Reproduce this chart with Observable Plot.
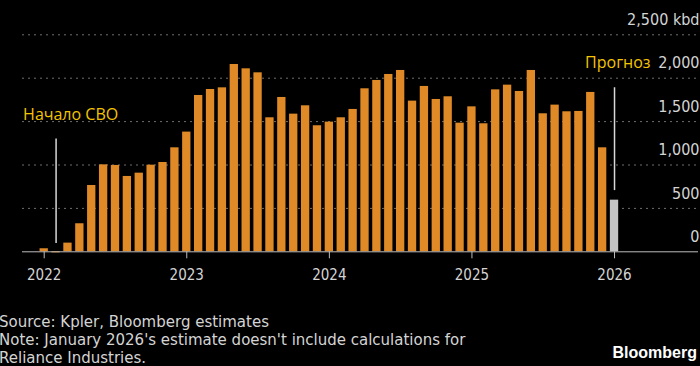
<!DOCTYPE html>
<html>
<head>
<meta charset="utf-8">
<script src="https://cdn.jsdelivr.net/npm/d3@7"></script>
<script src="https://cdn.jsdelivr.net/npm/@observablehq/plot@0.6"></script>
<style>
  html, body { margin: 0; padding: 0; background: #000; }
  body { width: 700px; height: 366px; overflow: hidden; position: relative; }
  #caption { font-family: "DejaVu Sans", sans-serif;
    font-size: 15px; line-height: 18px; color: #d4d4d4; margin-left: -1px; margin-top: -1px; white-space: nowrap; }
  #logo { position: absolute; right: 3px; top: 343px; font-family: "Liberation Sans", Arial, sans-serif;
    font-weight: bold; font-size: 16px; line-height: 20px; color: #fff; }
</style>
</head>
<body>
<div id="chart"></div>
<div id="caption">
  <div>Source: Kpler, Bloomberg estimates</div>
  <div>Note: January 2026's estimate doesn't include calculations for</div>
  <div>Reliance Industries.</div>
</div>
<div id="logo">Bloomberg</div>
<script>
// Monthly categories (Jan 2022 – Jan 2026)
const months = [
  "2022-01","2022-02","2022-03","2022-04","2022-05","2022-06","2022-07","2022-08","2022-09","2022-10","2022-11","2022-12",
  "2023-01","2023-02","2023-03","2023-04","2023-05","2023-06","2023-07","2023-08","2023-09","2023-10","2023-11","2023-12",
  "2024-01","2024-02","2024-03","2024-04","2024-05","2024-06","2024-07","2024-08","2024-09","2024-10","2024-11","2024-12",
  "2025-01","2025-02","2025-03","2025-04","2025-05","2025-06","2025-07","2025-08","2025-09","2025-10","2025-11","2025-12",
  "2026-01"
];
// Imports, thousand barrels per day (kbd)
const values = [
  35, -12, 100, 323, 764, 1002, 995, 868, 906, 998, 1029, 1198,
  1379, 1801, 1870, 1889, 2158, 2108, 2062, 1544, 1778, 1586, 1682, 1452,
  1494, 1544, 1640, 1878, 1974, 2043, 2089, 1736, 1905, 1755, 1786, 1482,
  1670, 1475, 1866, 1920, 1847, 2089, 1590, 1690, 1613, 1617, 1836, 1198,
  595
];
const estimateMonths = ["2026-01"];

const yTicks = [0, 500, 1000, 1500, 2000, 2500];
const yTickLabels = ["0", "500", "1,000", "1,500", "2,000", "2,500 kbd"];
const xTicks = [2022, 2023, 2024, 2025, 2026];
const xTickLabels = ["2022", "2023", "2024", "2025", "2026"];

// Annotations: month, vertical extent of the marker line (kbd), label and label height (kbd)
const annotationMonths = ["2022-02", "2026-01"];
const annotationLabels = ["Начало СВО", "Прогноз"];
const annotationLineTop = [1300, 1890];
const annotationLineBottom = [95, 705];
const annotationLabelY = [1583, 2182];

const toT = m => { const [y, mo] = m.split("-").map(Number); return y + (mo - 1) / 12; };
const data = months.map((m, i) => ({ month: m, t: toT(m), value: values[i], estimate: estimateMonths.includes(m) }));
const ann = annotationMonths.map((m, i) => ({
  t: toT(m), label: annotationLabels[i], top: annotationLineTop[i], bottom: annotationLineBottom[i], labelY: annotationLabelY[i]
}));
const yLab = yTicks.map((v, i) => ({ v, label: yTickLabels[i] }));
const halfBar = 0.35 / 12;

const condensed = "'DejaVu Sans Condensed', 'DejaVu Sans', sans-serif";
const annFont = "'Open Sans', 'Noto Sans', sans-serif";

const chart = Plot.plot({
  width: 700,
  height: 314,
  marginLeft: 22,
  marginRight: 2,
  marginTop: 34.3,
  marginBottom: 62.7,
  style: { background: "#000", color: "#d4d4d4", fontFamily: condensed, overflow: "visible" },
  x: { type: "linear", domain: [2021.8478, 2026.589], axis: null },
  y: { domain: [0, 2500], axis: null },
  marks: [
    Plot.ruleY(yTicks.filter(v => v > 0), { y: d => d, stroke: "#6e6e6e", strokeWidth: 1, strokeDasharray: "2,4" }),
    Plot.rectY(data, {
      x1: d => d.t - halfBar, x2: d => d.t + halfBar, y: "value",
      fill: d => d.estimate ? "#c4c4c4" : "#df8a26"
    }),
    Plot.ruleY([0], { stroke: "#bdbdbd", strokeWidth: 1 }),
    Plot.axisX({ ticks: xTicks, tickFormat: d => xTickLabels[xTicks.indexOf(d)], tickSize: 7, tickPadding: 11,
      stroke: "#bdbdbd", fill: "#d4d4d4", fontSize: 15, fontFamily: condensed, anchor: "bottom", label: null }),
    Plot.text(yLab, { y: "v", text: "label", frameAnchor: "right", textAnchor: "end", dx: 1, dy: -15,
      fill: "#d4d4d4", fontSize: 16, fontFamily: condensed }),
    Plot.ruleX(ann, { x: "t", y1: "bottom", y2: "top", stroke: "#d8d8d8", strokeWidth: 1.5 }),
    Plot.text(ann.slice(0, 1), { x: "t", y: "labelY", text: "label", textAnchor: "start", dx: -33,
      fill: "#f5c400", fontSize: 16, fontFamily: annFont }),
    Plot.text(ann.slice(1), { x: "t", y: "labelY", text: "label", textAnchor: "end", dx: 36,
      fill: "#f5c400", fontSize: 16, fontFamily: annFont })
  ]
});
document.getElementById("chart").appendChild(chart);
</script>
</body>
</html>
